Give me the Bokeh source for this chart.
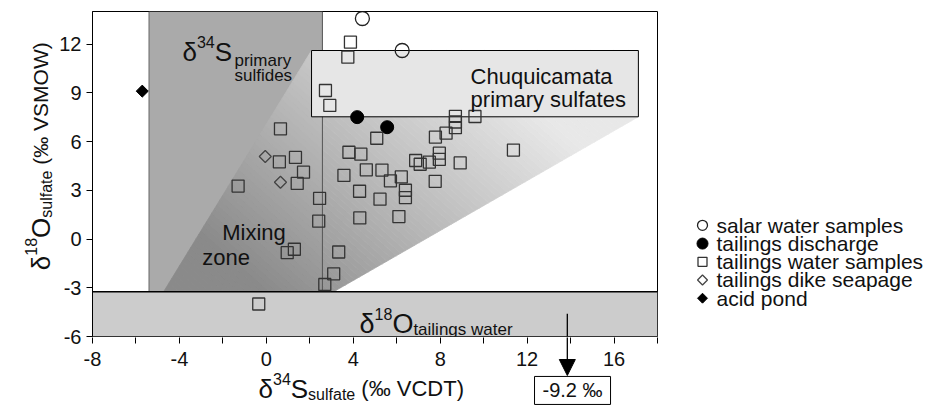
import numpy as np
from bokeh.plotting import figure
from bokeh.layouts import row, column
from bokeh.models import Range1d, FixedTicker, Label, Arrow, NormalHead
from bokeh.core.properties import value
from bokeh.embed import file_html
from bokeh.resources import INLINE

# ---------------- data ----------------
salar_x = [4.42, 6.25]
salar_y = [13.57, 11.6]
discharge_x = [4.18, 5.56]
discharge_y = [7.5, 6.88]
water_x = [3.87, 3.75, 2.72, 2.92, 0.65, 0.60, 1.34, 1.71, 1.42, -1.30,
           2.45, 2.41, 1.29, 0.96, 3.33, 3.10, 2.69, -0.35, 5.08, 3.80,
           4.35, 3.57, 4.60, 5.32, 5.71, 6.21, 6.40, 6.40, 4.29, 5.23,
           4.30, 6.10, 7.78, 8.27, 8.70, 8.70, 8.70, 9.60, 6.87, 7.08,
           7.50, 7.96, 7.96, 8.92, 7.77, 11.37]
water_y = [12.11, 11.19, 9.14, 8.22, 6.78, 4.75, 5.02, 4.11, 3.42, 3.26,
           2.50, 1.10, -0.63, -0.84, -0.80, -2.14, -2.80, -4.00, 6.20, 5.34,
           5.22, 3.91, 4.26, 4.24, 3.58, 3.82, 3.00, 2.55, 2.94, 2.45,
           1.30, 1.38, 6.27, 6.51, 7.55, 7.20, 6.85, 7.54, 4.83, 4.60,
           4.73, 5.28, 4.90, 4.68, 3.55, 5.47]
dike_x = [-0.05, 0.65]
dike_y = [5.08, 3.49]
acid_x = [-5.71]
acid_y = [9.1]

legend_labels = ["salar water samples", "tailings discharge", "tailings water samples",
                 "tailings dike seapage", "acid pond"]

x_ticks = [-8, -4, 0, 4, 8, 12, 16]
x_minor = [-6, -2, 2, 6, 10, 14, 18]
y_ticks = [-6, -3, 0, 3, 6, 9, 12]

# isotopic fields
sulf_left, sulf_right = -5.4, 2.58
tw_top = -3.25
box_l, box_r, box_b, box_t = 2.08, 17.12, 7.52, 11.6
mix_x = [-4.73, 2.08, 17.12, 17.12, 3.09]
mix_y = [-3.25, 11.6, 11.6, 7.52, -3.25]
tw_value_x = 13.85
tw_value_text = "-9.2 \u2030"

X0, X1, Y0, Y1 = -8, 18, -6, 14

FONT = "Liberation Sans"
TXT = "#111111"

# geometry (pixels)
FW, FH = 565, 325
LEFT_W, MAIN_BL, MAIN_BR, MAIN_BT, MAIN_BB = 56, 36, 2, 11, 12
TOP_H = MAIN_BT + FH + MAIN_BB
MAIN_W = MAIN_BL + FW + MAIN_BR
LEG_W = 928 - LEFT_W - MAIN_W
OVERLAP = MAIN_BB - 1
BOT_H = 407 - TOP_H + OVERLAP
SCX = FW / (X1 - X0)
SCY = FH / (Y1 - Y0)
FRAME_X = LEFT_W + MAIN_BL
LEG_MX, LEG_TX, LEG_Y0, LEG_PITCH = 702, 716, 229, 19.5


def blank(width, height, xr, yr):
    f = figure(width=width, height=height, x_range=xr, y_range=yr, output_backend="svg",
               toolbar_location=None, x_axis_location=None, y_axis_location=None, min_border=0,
               min_border_left=0, min_border_right=0, min_border_top=0, min_border_bottom=0)
    f.grid.visible = False
    f.outline_line_color = None
    return f


# ---------------- main plot ----------------
p = figure(frame_width=FW, frame_height=FH, min_border_left=MAIN_BL, min_border_right=MAIN_BR,
           min_border_top=MAIN_BT, min_border_bottom=MAIN_BB,
           x_range=Range1d(X0, X1), y_range=Range1d(Y0, Y1), x_axis_location=None,
           output_backend="svg", toolbar_location=None)
p.grid.visible = False
p.outline_line_color = "black"
p.outline_line_width = 1

p.quad(left=sulf_left, right=sulf_right, bottom=tw_top, top=Y1, fill_color="#aaaaaa", line_color=None)
p.segment(x0=sulf_left, y0=tw_top, x1=sulf_left, y1=Y1, line_color="#666666", line_width=1)


def clip(pts, a, b, c):
    out = []
    n = len(pts)
    for i in range(n):
        P, Q = pts[i], pts[(i + 1) % n]
        fp = a * P[0] + b * P[1] - c
        fq = a * Q[0] + b * Q[1] - c
        if fp >= 0:
            out.append(P)
        if (fp >= 0) != (fq >= 0):
            t = fp / (fp - fq)
            out.append((P[0] + t * (Q[0] - P[0]), P[1] + t * (Q[1] - P[1])))
    return out


g0, gx, gy = 150.0, 4.3, 3.6
poly = list(zip(mix_x, mix_y))
gv = [g0 + gx * x + gy * y for x, y in poly]
lo_all, hi_all = min(gv), max(gv)
step = 1.5
xs, ys, cols = [], [], []
lev = lo_all
while lev < hi_all:
    pts = clip(poly, gx, gy, lev - g0)
    pts = clip(pts, -gx, -gy, -(lev + step - g0))
    if len(pts) >= 3:
        c = int(round(min(max(lev + step / 2, 138), 232)))
        xs.append([q[0] for q in pts])
        ys.append([q[1] for q in pts])
        cols.append("#%02x%02x%02x" % (c, c, c))
    lev += step
p.patches(xs, ys, fill_color=cols, line_color=cols, line_width=0.8)

p.segment(x0=sulf_right, y0=tw_top, x1=sulf_right, y1=Y1, line_color="#555555", line_width=1)
p.quad(left=box_l, right=box_r, bottom=box_b, top=box_t, fill_color="#e6e6e6", line_color="black", line_width=1)
p.quad(left=X0, right=X1, bottom=Y0, top=tw_top, fill_color="#cccccc", line_color=None)
p.segment(x0=X0, y0=tw_top, x1=X1, y1=tw_top, line_color="black", line_width=1.5)

SALAR = dict(marker="circle", fill_color=None, line_color="#222222", line_width=1.3)
DISCH = dict(marker="circle", fill_color="black", line_color="black")
WATER = dict(marker="square", fill_color=None, line_color="#333333", line_width=1.3)
DIKE = dict(marker="square", angle=np.pi / 4, fill_color=None, line_color="#444444", line_width=1.3)
ACID = dict(marker="square", angle=np.pi / 4, fill_color="black", line_color="black")

p.scatter(salar_x, salar_y, size=14, **SALAR)
p.scatter(discharge_x, discharge_y, size=13, **DISCH)
p.scatter(water_x, water_y, size=12, **WATER)
p.scatter(dike_x, dike_y, size=8.5, **DIKE)
p.scatter(acid_x, acid_y, size=8.5, **ACID)

ax = p.yaxis[0]
ax.ticker = FixedTicker(ticks=y_ticks, minor_ticks=[])
ax.major_label_overrides = {t: str(t) for t in y_ticks}
ax.axis_line_color = "black"
ax.major_tick_line_color = "black"
ax.major_tick_in = 0
ax.major_tick_out = 6
ax.major_label_standoff = 5
ax.major_label_text_font = FONT
ax.major_label_text_font_size = "20px"
ax.major_label_text_color = TXT

WID = {' ': 278, '(': 333, ')': 333, '\u2030': 1000, '-': 333, '.': 278, 'A': 667, 'C': 722,
       'D': 722, 'M': 833, 'O': 778, 'S': 667, 'T': 611, 'V': 667, 'W': 944, 'a': 556, 'c': 500,
       'd': 556, 'e': 556, 'f': 278, 'g': 556, 'h': 556, 'i': 222, 'l': 222, 'm': 833, 'n': 556,
       'o': 556, 'p': 556, 'q': 556, 'r': 333, 's': 500, 't': 278, 'u': 556, 'w': 722, 'y': 500,
       'z': 500, 'x': 500, '\u03b4': 556}


def tw(s, size):
    return sum(WID.get(ch, 556) for ch in s) / 1000 * size


def lab(fig, x, y, text, size, **kw):
    fig.add_layout(Label(x=x, y=y, text=text, text_font=FONT, text_font_size=f"{size}px",
                         text_color=TXT, text_baseline=kw.pop("text_baseline", "alphabetic"), **kw))


def rich(fig, x, y, pieces, vertical=False):
    adv = 0.0
    for text, size, shift in pieces:
        lead = len(text) - len(text.lstrip(" "))
        adv += tw(" " * lead, size)
        body = text.lstrip(" ")
        if vertical:
            lab(fig, x, y, body, size, angle=np.pi / 2, x_offset=-shift, y_offset=adv)
        else:
            lab(fig, x, y, body, size, x_offset=adv, y_offset=shift)
        adv += tw(body, size)


rich(p, -3.86, 11.48, [("\u03b4", 26, 0), ("34", 16, 10), ("S", 26, 0)])
lab(p, -3.86, 11.48, "primary", 17, x_offset=52, y_offset=-8)
lab(p, -3.86, 11.48, "sulfides", 17, x_offset=52, y_offset=-23)
lab(p, 9.4, 10.0, "Chuquicamata", 22)
lab(p, 9.4, 8.58, "primary sulfates", 22)
lab(p, -2.03, 0.4, "Mixing", 22)
lab(p, -2.95, -1.14, "zone", 22)
rich(p, 4.29, -5.25, [("\u03b4", 27, 0), ("18", 16, 10), ("O", 27, 0), ("tailings water", 17, -5)])

p.add_layout(Arrow(end=None, x_start=tw_value_x, y_start=-4.6, x_end=tw_value_x, y_end=Y0,
                   line_color="black", line_width=1.3))

# ---------------- left: y title ----------------
p_left = blank(LEFT_W, TOP_H, Range1d(0, LEFT_W), Range1d(Y0 - MAIN_BB / SCY, Y1 + MAIN_BT / SCY))
rich(p_left, 40, -2.37, [("\u03b4", 26, 0), ("18", 16, 10), ("O", 26, 0), ("sulfate", 16, -6),
                         (" (\u2030 VSMOW)", 21, 0)], vertical=True)

# ---------------- right: legend ----------------
p_leg = blank(LEG_W, TOP_H, Range1d(0, LEG_W), Range1d(0, TOP_H))
leg_y = [TOP_H - (LEG_Y0 + i * LEG_PITCH) for i in range(len(legend_labels))]
leg_mx = LEG_MX - (LEFT_W + MAIN_W)
leg_tx = LEG_TX - (LEFT_W + MAIN_W)
for i, (style, sz) in enumerate([(SALAR, 10), (DISCH, 11), (WATER, 9), (DIKE, 7), (ACID, 7)]):
    p_leg.scatter([leg_mx], [leg_y[i]], size=sz, **style)
p_leg.text(x=[leg_tx] * len(legend_labels), y=leg_y, text=legend_labels, text_font=value(FONT),
           text_font_size="21px", text_color=TXT, text_baseline="middle", text_align="left")

# ---------------- bottom: x axis labels, title, value box ----------------
p_bot = figure(width=928, height=BOT_H, output_backend="svg", toolbar_location=None,
               x_range=Range1d(X0 - FRAME_X / SCX, X0 + (928 - FRAME_X) / SCX),
               y_range=Range1d(Y0 - (BOT_H + 1) / SCY, Y0 - 1 / SCY),
               x_axis_location="above", y_axis_location=None, min_border=0,
               min_border_left=0, min_border_right=0, min_border_top=0, min_border_bottom=0,
               margin=(-OVERLAP, 0, 0, 0))
p_bot.grid.visible = False
p_bot.outline_line_color = None
p_bot.background_fill_alpha = 0
p_bot.border_fill_alpha = 0
bx = p_bot.xaxis[0]
bx.ticker = FixedTicker(ticks=x_ticks, minor_ticks=x_minor)
bx.major_label_overrides = {t: str(t) for t in x_ticks}
bx.axis_line_color = None
bx.major_tick_line_color = "black"
bx.minor_tick_line_color = "black"
bx.major_tick_out = 0
bx.major_tick_in = 6
bx.minor_tick_out = 0
bx.minor_tick_in = 6
bx.major_label_standoff = -28
bx.major_label_text_font = FONT
bx.major_label_text_font_size = "20px"
bx.major_label_text_color = TXT

rich(p_bot, -0.36, -9.2, [("\u03b4", 26, 0), ("34", 16, 10), ("S", 26, 0), ("sulfate", 16, -6),
                          (" (\u2030 VCDT)", 22, 0)])
p_bot.add_layout(Arrow(end=NormalHead(size=16, fill_color="black", line_color="black"),
                       x_start=tw_value_x, y_start=Y0, x_end=tw_value_x, y_end=-8.4,
                       line_color="black", line_width=1.3))
lab(p_bot, 14.09, -9.32, tw_value_text, 20, text_align="center", text_baseline="middle",
    border_line_color="black", border_line_width=1, background_fill_color="white", padding=(8, 3))

layout = column(row(p_left, p, p_leg), p_bot)
open("out.html", "w").write(file_html(layout, INLINE))
